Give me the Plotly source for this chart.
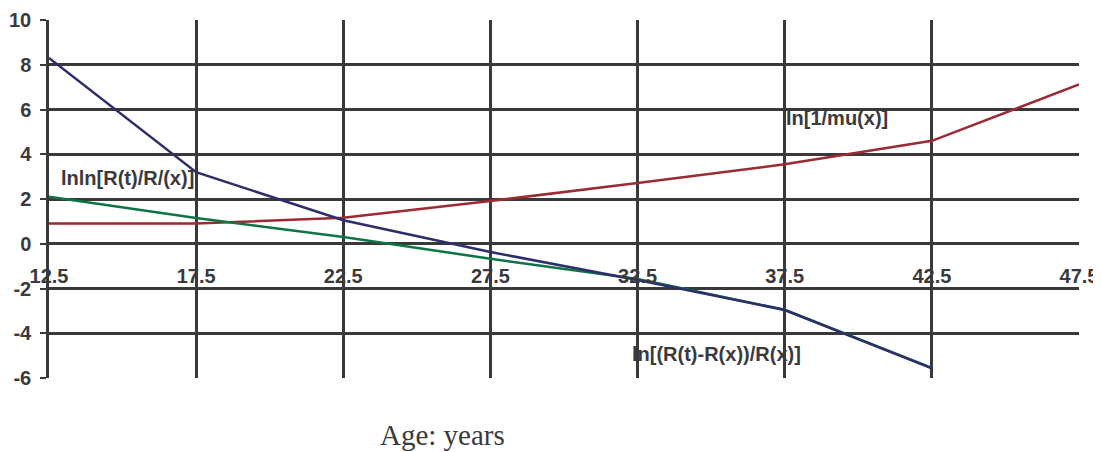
import plotly.graph_objects as go

ages = [12.5, 17.5, 22.5, 27.5, 32.5, 37.5, 42.5, 47.5]
ln_inv_mu = [0.9, 0.9, 1.16, 1.91, 2.71, 3.55, 4.6, 7.12]
lnln_R = [2.1, 1.15, 0.3, -0.67, -1.58, -2.95, -5.55, None]
ln_ratio = [8.3, 3.2, 1.05, -0.37, -1.62, -2.96, -5.57, None]

x_ticks = [12.5, 17.5, 22.5, 27.5, 32.5, 37.5, 42.5, 47.5]
x_tick_text = ["12.5", "17.5", "22.5", "27.5", "32.5", "37.5", "42.5", "47.5"]
y_ticks = [-6, -4, -2, 0, 2, 4, 6, 8, 10]
y_tick_text = ["-6", "-4", "-2", "0", "2", "4", "6", "8", "10"]

label_mu = "ln[1/mu(x)]"
label_lnln = "lnln[R(t)/R/(x)]"
label_ratio = "ln[(R(t)-R(x))/R(x)]"
x_title = "Age: years"

RED = "#9c2a32"
GREEN = "#0d7446"
BLUE = "#2d2e6a"
GRID = "#39393b"
TXT = "#3a3a3c"

fig = go.Figure()
fig.add_trace(go.Scatter(x=ages, y=ln_inv_mu, mode="lines", line=dict(color=RED, width=2.5), name=label_mu))
fig.add_trace(go.Scatter(x=ages, y=lnln_R, mode="lines", line=dict(color=GREEN, width=2.5), name=label_lnln))
fig.add_trace(go.Scatter(x=ages, y=ln_ratio, mode="lines", line=dict(color=BLUE, width=2.5), name=label_ratio))

tick_font = dict(family="Liberation Sans, Arial, sans-serif", size=20, color=TXT)
lab_font = dict(family="Liberation Sans, Arial, sans-serif", size=20, color=TXT)

def bold(s):
    return "<b>%s</b>" % s

fig.update_layout(
    width=1093, height=444,
    margin=dict(l=41, r=22, t=12, b=74),
    paper_bgcolor="white", plot_bgcolor="white",
    showlegend=False,
    xaxis=dict(
        range=[12.5, 47.5], tickvals=x_ticks, ticktext=[bold(t) for t in x_tick_text],
        showgrid=True, gridcolor=GRID, gridwidth=2.5,
        zeroline=False, showline=False, automargin=False,
        anchor="free", position=0.375,
        ticks="outside", ticklen=14, tickcolor="rgba(0,0,0,0)",
        tickfont=tick_font,
    ),
    yaxis=dict(
        range=[-6, 10], tickvals=y_ticks, ticktext=[bold(t) for t in y_tick_text],
        showgrid=True, gridcolor=GRID, gridwidth=2.5,
        zeroline=False, showline=True, linecolor=GRID, linewidth=2.5, automargin=False,
        ticks="outside", ticklen=6, tickwidth=2, tickcolor=GRID,
        ticklabelstandoff=5,
        tickfont=tick_font,
    ),
    annotations=[
        dict(x=12.83, y=2.92, xref="x", yref="y", text=bold(label_lnln),
             showarrow=False, xanchor="left", yanchor="middle", font=lab_font),
        dict(x=37.49, y=5.61, xref="x", yref="y", text=bold(label_mu),
             showarrow=False, xanchor="left", yanchor="middle", font=lab_font),
        dict(x=32.23, y=-4.91, xref="x", yref="y", text=bold(label_ratio),
             showarrow=False, xanchor="left", yanchor="middle", font=lab_font),
        dict(x=0.3825, y=-0.158, xref="paper", yref="paper", text=x_title,
             showarrow=False, xanchor="center", yanchor="middle",
             font=dict(family="Liberation Serif, Times New Roman, serif", size=29, color=TXT)),
    ],
)

fig.write_html("out.html")
